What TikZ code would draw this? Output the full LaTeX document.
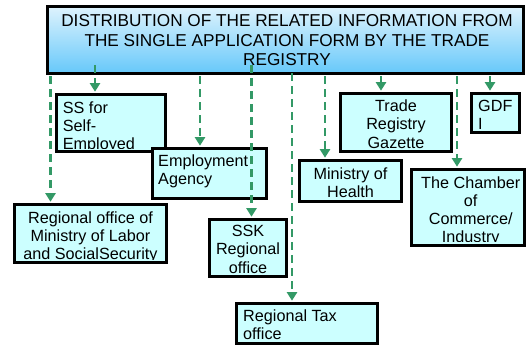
\documentclass[tikz,border=0pt]{standalone}
\usepackage{fontspec}
\setmainfont{Liberation Sans}
\usetikzlibrary{arrows.meta}
\definecolor{boxfill}{RGB}{204,255,255}
\definecolor{topA}{RGB}{222,243,253}
\definecolor{topB}{RGB}{102,200,250}
\definecolor{conngreen}{RGB}{51,153,102}
\tikzset{
  topbox/.style={draw=black, line width=2.8pt, top color=topA, bottom color=topB, inner sep=0pt},
  infobox/.style={draw=black, line width=2.8pt, fill=boxfill, inner sep=0pt},
  boxtext/.style={inner sep=0pt, font=\fontsize{16.2}{18.2}\selectfont},
  conn/.style={draw=conngreen, line width=2.6pt, dash pattern=on 8pt off 5pt,
    -{Triangle[length=8.5pt,width=10pt]}}
}
\begin{document}
\begin{tikzpicture}[x=1pt,y=-1pt]
\useasboundingbox (0,0) rectangle (529,346);
% top box
\node[topbox, minimum width=476, minimum height=67] (top) at (285.5,40) {};
\node[inner sep=0pt, anchor=base, font=\fontsize{17.2}{19.5}\selectfont] (toptext) at (287,26.7)
  {\begin{tabular}[t]{@{}c@{}}DISTRIBUTION OF THE RELATED INFORMATION FROM\\THE SINGLE APPLICATION FORM BY THE TRADE\\REGISTRY\end{tabular}};
% boxes
\node[infobox, minimum width=109, minimum height=57] (ss) at (111,123) {};
\node[infobox, minimum width=114, minimum height=50] (emp) at (209.5,173.5) {};
\node[infobox, minimum width=152, minimum height=58] (lab) at (90.5,233.5) {};
\node[infobox, minimum width=77, minimum height=57] (ssk) at (248,248) {};
\node[infobox, minimum width=141, minimum height=40] (tax) at (307,323.5) {};
\node[infobox, minimum width=111, minimum height=58] (trg) at (396,122.5) {};
\node[infobox, minimum width=48, minimum height=39] (gdfi) at (495.5,113) {};
\node[infobox, minimum width=102, minimum height=41] (moh) at (350.5,181) {};
\node[infobox, minimum width=113, minimum height=76] (cham) at (468,207.5) {};
% texts, clipped to their boxes
\begin{scope}
\clip ([yshift=4.5pt]ss.south west) rectangle (ss.north east);
\node[boxtext, anchor=base west] (sst) at (62.7,113) {\begin{tabular}[t]{@{}l@{}}SS for\\Self-\\Employed\end{tabular}};
\end{scope}
\node[boxtext, anchor=base west] (empt) at (158,166.7) {\begin{tabular}[t]{@{}l@{}}Employment\\Agency\end{tabular}};
\begin{scope}
\clip ([yshift=4.5pt]lab.south west) rectangle (lab.north east);
\node[boxtext, anchor=base] (labt) at (90.5,223) {\begin{tabular}[t]{@{}c@{}}Regional office of\\Ministry of Labor\\and SocialSecurity\end{tabular}};
\end{scope}
\node[boxtext, anchor=base] (sskt) at (248,236.7) {\begin{tabular}[t]{@{}c@{}}SSK\\Regional\\office\end{tabular}};
\node[boxtext, anchor=base west] (taxt) at (243,321) {\begin{tabular}[t]{@{}l@{}}Regional Tax\\office\end{tabular}};
\node[boxtext, anchor=base] (trgt) at (396,111.7) {\begin{tabular}[t]{@{}c@{}}Trade\\Registry\\Gazette\end{tabular}};
\node[boxtext, anchor=base west] (gdfit) at (478,111.7) {\begin{tabular}[t]{@{}l@{}}GDF\\I\end{tabular}};
\node[boxtext, anchor=base] (moht) at (350.5,179) {\begin{tabular}[t]{@{}c@{}}Ministry of\\Health\end{tabular}};
\begin{scope}
\clip ([yshift=5pt]cham.south west) rectangle (cham.north east);
\node[boxtext, anchor=base] (chamt) at (470.7,188) {\begin{tabular}[t]{@{}c@{}}The Chamber\\of\\Commerce/\\Industry\end{tabular}};
\end{scope}
% connectors
\draw[conn] ([xshift=-235pt,yshift=-1.5pt]top.south) -- ([xshift=-40pt,yshift=1.4pt]lab.north);
\draw[conn] ([xshift=-190.5pt,yshift=9.5pt]top.south) -- ([xshift=-16pt,yshift=1.4pt]ss.north);
\draw[conn] ([xshift=-85.5pt,yshift=-1.5pt]top.south) -- ([xshift=-9.5pt,yshift=1.4pt]emp.north);
\draw[conn] ([xshift=-34pt,yshift=9.5pt]top.south) -- ([xshift=3.5pt,yshift=1.4pt]ssk.north);
\draw[conn] ([xshift=6.5pt,yshift=1.5pt]top.south) -- ([xshift=-15pt,yshift=1.4pt]tax.north);
\draw[conn] ([xshift=39.5pt,yshift=-1.5pt]top.south) -- ([xshift=-25.5pt,yshift=1.4pt]moh.north);
\draw[conn] ([xshift=95.5pt,yshift=-1.5pt]top.south) -- ([xshift=-15pt,yshift=1.4pt]trg.north);
\draw[conn] ([xshift=171.5pt,yshift=-1.5pt]top.south) -- ([xshift=-11pt,yshift=1.4pt]cham.north);
\draw[conn] ([xshift=204.5pt,yshift=-1.5pt]top.south) -- ([xshift=-5.5pt,yshift=1.4pt]gdfi.north);
\end{tikzpicture}
\end{document}
